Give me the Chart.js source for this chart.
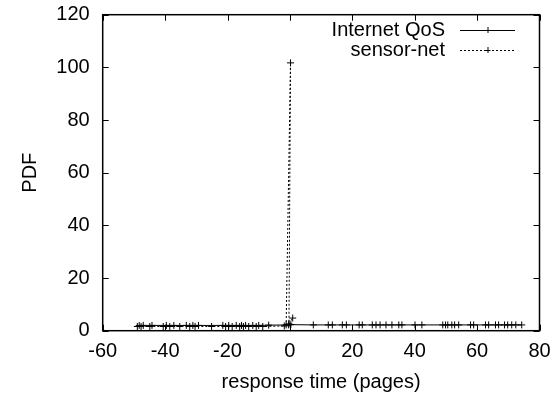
<!DOCTYPE html>
<html><head><meta charset="utf-8">
<script src="https://cdn.jsdelivr.net/npm/chart.js@4"></script>
<style>html,body{margin:0;padding:0;background:#fff}#wrap{width:554px;height:394px}</style>
</head><body><div id="wrap"><canvas id="c" width="554" height="394"></canvas></div>
<script>
const xTicks = [-60, -40, -20, 0, 20, 40, 60, 80];
const yTicks = [0, 20, 40, 60, 80, 100, 120];
const seriesNames = ["Internet QoS", "sensor-net"];
const xTitle = "response time (pages)";
const yTitle = "PDF";

const qosX = [-48.3, -47.0, -44.2, -39.6, -37.2, -33.2, -31.1, -29.3, -21.5, -19.6, -17.2, -15.5, -14.2, -11.9, -10.0, -6.8, -0.4, 0.3,
  7.5, 12.3, 13.6, 16.8, 18.1, 22.2, 23.2, 26.4, 27.6, 28.9, 30.8, 32.7, 34.9, 35.9, 40.1, 42.3, 49.0, 49.9, 50.6, 51.9, 52.8, 54.1,
  57.9, 58.9, 62.7, 63.7, 65.9, 66.9, 68.8, 69.8, 71.1, 72.4, 74.3];
const qosY = [2.0, 2.0, 2.0, 2.0, 2.0, 2.0, 2.0, 2.0, 2.0, 2.0, 2.0, 2.0, 2.0, 2.0, 2.0, 2.1, 2.2, 2.3,
  2.2, 2.2, 2.2, 2.2, 2.2, 2.2, 2.2, 2.2, 2.2, 2.2, 2.2, 2.2, 2.2, 2.2, 2.2, 2.2, 2.2, 2.2, 2.2, 2.2, 2.2, 2.2,
  2.2, 2.2, 2.2, 2.2, 2.2, 2.2, 2.2, 2.2, 2.2, 2.2, 2.2];
const sensorX = [-48.9, -47.7, -44.9, -40.6, -38.5, -35.3, -32.1, -30.4, -25.1, -20.6, -18.5, -16.1, -14.9, -13.2, -10.8, -8.7, -1.8, -1.2, 0.2, -0.3, 0.9];
const sensorY = [1.6, 1.6, 1.6, 1.6, 1.6, 1.6, 1.6, 1.6, 1.6, 1.6, 1.6, 1.6, 1.6, 1.6, 1.6, 1.6, 1.8, 2.2, 101.7, 2.6, 4.8];

const toPts = (xs, ys) => xs.map((x, i) => ({x: x, y: ys[i]}));
const FONT = "'Liberation Sans', Arial, Helvetica, sans-serif";
const FS = 20;

const frame = {
  id: 'frame',
  afterDatasetsDraw(chart) {
    const {ctx, chartArea: a, scales} = chart;
    ctx.save();
    ctx.strokeStyle = '#000';
    ctx.lineWidth = 1;
    const L = 6;
    ctx.beginPath();
    xTicks.forEach(v => {
      const p = Math.round(scales.x.getPixelForValue(v)) + 0.5;
      ctx.moveTo(p, a.bottom); ctx.lineTo(p, a.bottom - L);
      ctx.moveTo(p, a.top); ctx.lineTo(p, a.top + L);
    });
    yTicks.forEach(v => {
      const p = Math.round(scales.y.getPixelForValue(v)) + 0.5;
      ctx.moveTo(a.left, p); ctx.lineTo(a.left + L, p);
      ctx.moveTo(a.right, p); ctx.lineTo(a.right - L, p);
    });
    ctx.stroke();
    ctx.lineWidth = 1.5;
    ctx.strokeRect(a.left, a.top, a.right - a.left, a.bottom - a.top);
    // legend
    ctx.font = FS + 'px ' + FONT;
    ctx.fillStyle = '#000';
    ctx.textAlign = 'right';
    ctx.textBaseline = 'middle';
    const tx = 445, sx0 = 460, sx1 = 515, rows = [30, 50];
    chart.data.datasets.forEach((ds, i) => {
      const y = rows[i];
      ctx.fillText(ds.label, tx, y);
      ctx.lineWidth = 1;
      ctx.setLineDash(ds.borderDash || []);
      ctx.beginPath();
      ctx.moveTo(sx0, y + 0.5); ctx.lineTo(sx1, y + 0.5);
      ctx.stroke();
      ctx.setLineDash([]);
      const cx = (sx0 + sx1) / 2;
      ctx.beginPath();
      ctx.moveTo(cx - 3, y + 0.5); ctx.lineTo(cx + 3, y + 0.5);
      ctx.moveTo(cx + 0.5, y - 3); ctx.lineTo(cx + 0.5, y + 3);
      ctx.stroke();
    });
    ctx.restore();
  }
};

new Chart(document.getElementById('c'), {
  type: 'scatter',
  data: {
    datasets: [
      {label: seriesNames[0], data: toPts(qosX, qosY), showLine: true, borderColor: '#000', backgroundColor: '#000',
       borderWidth: 1, pointStyle: 'cross', pointRadius: 3.5, pointBorderWidth: 1, pointBorderColor: '#000'},
      {label: seriesNames[1], data: toPts(sensorX, sensorY), showLine: true, borderColor: '#000', backgroundColor: '#000',
       borderWidth: 1, borderDash: [2, 2], pointStyle: 'cross', pointRadius: 3.5, pointBorderWidth: 1, pointBorderColor: '#000'}
    ]
  },
  options: {
    responsive: false,
    animation: false,
    devicePixelRatio: 1,
    layout: {padding: {left: 0, right: 14.5, top: 14.7, bottom: 0}},
    plugins: {legend: {display: false}, tooltip: {enabled: false}},
    scales: {
      x: {
        type: 'linear', min: -60, max: 80,
        afterBuildTicks: s => { s.ticks = xTicks.map(v => ({value: v})); },
        afterFit: s => { s.height = 394 - 330.7; s.paddingLeft = 0; s.paddingRight = 0; },
        grid: {display: false, drawTicks: false},
        border: {display: false},
        ticks: {color: '#000', font: {family: FONT, size: FS}, padding: 9, maxRotation: 0},
        title: {display: true, text: xTitle, color: '#000', font: {family: FONT, size: FS}, padding: {top: 4, bottom: 0}}
      },
      y: {
        type: 'linear', min: 0, max: 120,
        afterBuildTicks: s => { s.ticks = yTicks.map(v => ({value: v})); },
        afterFit: s => { s.width = 102.7; s.paddingTop = 0; s.paddingBottom = 0; },
        grid: {display: false, drawTicks: false},
        border: {display: false},
        ticks: {color: '#000', font: {family: FONT, size: FS}, padding: 13},
        title: {display: true, text: yTitle, color: '#000', font: {family: FONT, size: FS}, padding: {top: 18, bottom: 0}}
      }
    }
  },
  plugins: [frame]
});
</script></body></html>
